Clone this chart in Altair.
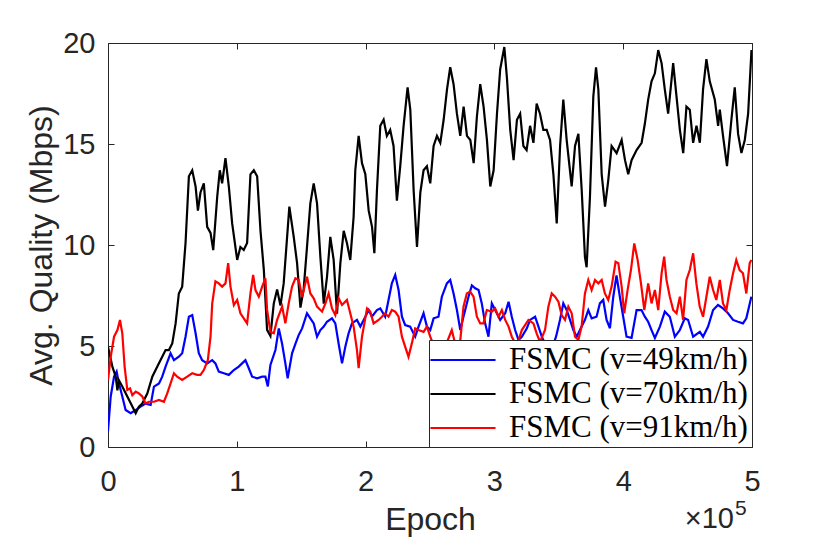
import altair as alt
import pandas as pd

# x values are in units of 1e5 epochs
blue_x = [0, 0.021, 0.047, 0.067, 0.085, 0.111, 0.137, 0.176, 0.215, 0.253, 0.292, 0.331, 0.357, 0.396, 0.421, 0.447, 0.486, 0.512, 0.55, 0.576, 0.602, 0.628, 0.654, 0.68, 0.705, 0.731, 0.77, 0.809, 0.834, 0.86, 0.899, 0.938, 0.977, 1.015, 1.041, 1.067, 1.093, 1.119, 1.158, 1.197, 1.222, 1.241, 1.261, 1.3, 1.326, 1.352, 1.377, 1.395, 1.429, 1.455, 1.481, 1.507, 1.545, 1.571, 1.597, 1.623, 1.649, 1.675, 1.7, 1.739, 1.765, 1.791, 1.817, 1.843, 1.868, 1.894, 1.933, 1.959, 1.998, 2.024, 2.049, 2.088, 2.114, 2.152, 2.178, 2.204, 2.23, 2.256, 2.282, 2.307, 2.346, 2.385, 2.411, 2.45, 2.476, 2.502, 2.528, 2.566, 2.592, 2.631, 2.657, 2.683, 2.709, 2.735, 2.76, 2.799, 2.825, 2.851, 2.877, 2.902, 2.928, 2.954, 2.98, 3.006, 3.045, 3.084, 3.11, 3.135, 3.161, 3.187, 3.213, 3.252, 3.277, 3.316, 3.342, 3.368, 3.394, 3.45, 3.48, 3.509, 3.535, 3.561, 3.587, 3.613, 3.639, 3.664, 3.703, 3.729, 3.755, 3.793, 3.819, 3.845, 3.871, 3.897, 3.923, 3.948, 3.974, 4.0, 4.026, 4.065, 4.104, 4.142, 4.168, 4.194, 4.22, 4.246, 4.285, 4.323, 4.362, 4.401, 4.44, 4.478, 4.504, 4.543, 4.595, 4.62, 4.659, 4.698, 4.736, 4.775, 4.814, 4.853, 4.891, 4.93, 4.956, 4.995]
blue_y = [0.8, 2.5, 3.48, 3.73, 3.15, 2.5, 1.83, 1.67, 1.83, 2.0, 2.15, 2.08, 2.99, 3.15, 3.48, 3.98, 4.64, 4.3, 4.47, 4.64, 5.46, 6.45, 6.53, 5.63, 4.64, 4.3, 4.14, 4.3, 4.14, 3.73, 3.65, 3.57, 3.81, 3.98, 4.14, 4.3, 3.9, 3.48, 3.4, 3.48, 3.48, 3.0, 4.06, 4.8, 5.87, 5.1, 4.14, 3.4, 4.64, 5.1, 5.55, 5.87, 6.62, 6.37, 6.12, 5.46, 5.79, 5.96, 6.2, 6.37, 6.12, 5.1, 4.14, 4.97, 5.63, 6.12, 6.29, 5.96, 6.45, 6.78, 6.45, 6.78, 6.86, 6.45, 7.28, 8.1, 8.52, 7.77, 6.45, 6.04, 5.96, 5.46, 5.96, 6.62, 5.96, 5.79, 6.37, 6.45, 7.44, 8.1, 8.27, 7.6, 6.78, 5.79, 6.45, 7.44, 8.0, 7.86, 7.77, 7.11, 6.12, 5.46, 7.11, 6.78, 6.29, 6.62, 7.19, 6.45, 5.79, 5.3, 5.46, 5.88, 6.29, 6.45, 5.96, 5.46, 5.1, 4.9, 5.5, 6.29, 7.11, 6.78, 6.29, 5.79, 5.46, 5.79, 6.3, 6.78, 6.37, 6.45, 7.11, 7.28, 6.29, 5.88, 7.44, 8.5, 7.44, 6.45, 5.46, 5.4, 6.78, 6.78, 6.45, 6.2, 5.79, 5.4, 5.96, 6.7, 6.45, 5.46, 5.79, 6.37, 6.29, 5.46, 5.7, 5.46, 5.96, 6.78, 7.03, 6.86, 6.62, 6.29, 6.2, 6.12, 6.37, 7.44]

black_x = [0, 0.034, 0.06, 0.073, 0.085, 0.111, 0.15, 0.189, 0.215, 0.24, 0.266, 0.305, 0.344, 0.383, 0.421, 0.447, 0.473, 0.499, 0.525, 0.55, 0.576, 0.602, 0.628, 0.654, 0.68, 0.698, 0.718, 0.744, 0.77, 0.796, 0.817, 0.848, 0.868, 0.886, 0.912, 0.938, 0.964, 1.003, 1.028, 1.054, 1.08, 1.106, 1.132, 1.158, 1.184, 1.21, 1.235, 1.261, 1.287, 1.313, 1.339, 1.364, 1.408, 1.442, 1.468, 1.494, 1.519, 1.545, 1.571, 1.597, 1.623, 1.649, 1.675, 1.7, 1.726, 1.752, 1.778, 1.804, 1.83, 1.855, 1.881, 1.907, 1.92, 1.946, 1.972, 1.998, 2.024, 2.05, 2.068, 2.088, 2.114, 2.14, 2.165, 2.191, 2.217, 2.243, 2.269, 2.295, 2.326, 2.347, 2.373, 2.399, 2.425, 2.45, 2.476, 2.502, 2.528, 2.554, 2.58, 2.606, 2.632, 2.657, 2.683, 2.709, 2.735, 2.761, 2.787, 2.813, 2.839, 2.864, 2.89, 2.916, 2.942, 2.968, 2.994, 3.02, 3.045, 3.077, 3.097, 3.123, 3.149, 3.175, 3.2, 3.225, 3.25, 3.277, 3.303, 3.328, 3.354, 3.38, 3.406, 3.432, 3.458, 3.484, 3.51, 3.535, 3.561, 3.6, 3.626, 3.652, 3.678, 3.703, 3.716, 3.742, 3.768, 3.789, 3.807, 3.833, 3.859, 3.884, 3.91, 3.949, 3.988, 4.014, 4.039, 4.065, 4.104, 4.143, 4.168, 4.194, 4.22, 4.246, 4.272, 4.298, 4.323, 4.349, 4.388, 4.414, 4.44, 4.466, 4.491, 4.517, 4.543, 4.569, 4.595, 4.62, 4.646, 4.672, 4.711, 4.737, 4.75, 4.775, 4.806, 4.84, 4.866, 4.892, 4.918, 4.944, 4.97, 4.996]
black_y = [4.95, 3.98, 3.48, 2.8, 3.3, 3.0, 2.5, 2.0, 1.67, 2.0, 2.15, 2.65, 3.48, 3.98, 4.47, 4.8, 4.8, 5.13, 6.12, 7.6, 7.94, 10.1, 13.4, 13.7, 12.9, 11.7, 12.6, 13.05, 10.9, 10.6, 9.75, 12.4, 13.7, 13.05, 14.3, 12.9, 11.07, 9.26, 9.9, 9.75, 10.1, 13.5, 13.7, 13.4, 10.7, 8.76, 5.8, 5.5, 7.1, 7.8, 7.0, 8.1, 11.9, 10.4, 9.1, 6.9, 7.8, 9.9, 12.06, 13.05, 12.06, 9.4, 7.1, 8.4, 10.4, 9.26, 6.6, 9.1, 10.7, 10.1, 9.26, 11.4, 13.7, 15.4, 14.05, 13.5, 11.7, 10.9, 9.6, 12.7, 15.9, 16.2, 15.4, 15.7, 14.9, 12.2, 13.9, 15.9, 17.8, 16.7, 12.7, 9.9, 12.6, 13.7, 13.9, 13.05, 14.9, 15.4, 15.06, 16.2, 17.7, 18.8, 17.96, 16.5, 15.4, 16.85, 15.4, 15.2, 14.05, 16.35, 17.96, 16.85, 15.2, 12.9, 13.7, 16.5, 18.7, 19.8, 18.3, 15.7, 14.2, 16.2, 16.5, 14.9, 14.7, 15.9, 15.06, 17.0, 16.5, 15.7, 15.7, 15.2, 13.5, 11.07, 14.9, 17.2, 15.2, 12.9, 14.9, 15.5, 12.7, 9.4, 8.9, 12.4, 17.35, 18.8, 17.7, 13.5, 11.9, 13.2, 14.9, 14.55, 15.2, 14.2, 13.5, 14.2, 14.7, 15.06, 16.0, 17.2, 18.1, 18.5, 19.65, 19.0, 17.7, 16.5, 19.0, 17.35, 15.7, 14.55, 16.85, 16.7, 15.06, 15.9, 15.06, 17.7, 19.2, 18.1, 17.2, 15.9, 16.7, 15.4, 13.9, 16.2, 17.8, 15.5, 14.55, 15.2, 16.5, 19.65]

red_x = [0, 0.021, 0.047, 0.073, 0.093, 0.111, 0.129, 0.15, 0.171, 0.189, 0.215, 0.24, 0.266, 0.292, 0.318, 0.357, 0.396, 0.434, 0.46, 0.486, 0.512, 0.537, 0.576, 0.615, 0.654, 0.692, 0.718, 0.744, 0.775, 0.796, 0.809, 0.834, 0.86, 0.886, 0.912, 0.933, 0.951, 0.977, 1.003, 1.028, 1.054, 1.08, 1.106, 1.127, 1.145, 1.171, 1.197, 1.222, 1.235, 1.261, 1.287, 1.313, 1.352, 1.377, 1.403, 1.429, 1.455, 1.481, 1.507, 1.545, 1.571, 1.597, 1.623, 1.662, 1.688, 1.713, 1.739, 1.765, 1.791, 1.817, 1.855, 1.881, 1.907, 1.933, 1.946, 1.972, 2.011, 2.036, 2.062, 2.101, 2.127, 2.152, 2.178, 2.204, 2.23, 2.256, 2.282, 2.307, 2.333, 2.359, 2.385, 2.411, 2.45, 2.476, 2.502, 2.53, 2.58, 2.62, 2.669, 2.7, 2.734, 2.76, 2.786, 2.812, 2.838, 2.864, 2.89, 2.915, 2.941, 2.98, 3.006, 3.032, 3.058, 3.084, 3.11, 3.135, 3.174, 3.213, 3.264, 3.303, 3.328, 3.354, 3.393, 3.419, 3.445, 3.471, 3.497, 3.522, 3.548, 3.574, 3.6, 3.626, 3.652, 3.677, 3.703, 3.729, 3.755, 3.781, 3.807, 3.833, 3.858, 3.884, 3.91, 3.941, 3.962, 3.988, 4.008, 4.034, 4.06, 4.086, 4.112, 4.138, 4.164, 4.194, 4.22, 4.246, 4.272, 4.298, 4.318, 4.336, 4.362, 4.388, 4.414, 4.44, 4.465, 4.491, 4.517, 4.543, 4.568, 4.594, 4.62, 4.646, 4.672, 4.698, 4.723, 4.75, 4.775, 4.801, 4.827, 4.853, 4.878, 4.904, 4.93, 4.956, 4.982, 4.995]
red_y = [3.3, 4.47, 5.46, 5.79, 6.29, 5.63, 3.98, 2.82, 2.9, 2.57, 2.74, 2.65, 2.5, 2.15, 2.24, 2.24, 2.33, 2.24, 2.65, 3.15, 3.65, 3.48, 3.32, 3.48, 3.65, 3.57, 3.57, 3.81, 4.3, 5.46, 7.1, 8.2, 8.1, 7.94, 8.1, 9.1, 7.94, 7.03, 7.28, 6.62, 6.37, 6.12, 7.6, 8.52, 7.77, 7.44, 7.94, 8.35, 6.8, 5.7, 5.63, 6.29, 6.95, 6.12, 7.11, 7.94, 8.35, 8.27, 7.44, 8.43, 7.6, 7.36, 6.95, 6.7, 7.11, 7.6, 6.86, 6.53, 7.36, 7.03, 7.28, 6.62, 5.96, 4.8, 3.9, 5.46, 6.86, 6.7, 6.12, 6.29, 6.45, 6.62, 6.45, 6.78, 6.7, 6.45, 5.46, 4.97, 4.47, 5.13, 5.87, 5.79, 5.7, 5.96, 5.46, 5.0, 4.8, 5.0, 5.79, 5.0, 5.2, 6.95, 7.6, 7.69, 7.44, 6.45, 6.12, 6.12, 6.78, 6.7, 6.86, 6.45, 6.78, 6.29, 5.96, 5.46, 5.0, 5.79, 6.29, 6.12, 5.63, 5.2, 5.79, 6.95, 7.6, 7.44, 7.19, 6.53, 6.29, 6.95, 6.62, 5.46, 5.3, 5.96, 7.6, 8.27, 7.77, 8.27, 8.1, 8.27, 7.6, 7.28, 7.94, 9.17, 9.1, 7.94, 6.62, 7.77, 8.76, 10.08, 9.26, 8.1, 6.78, 8.1, 7.11, 7.77, 6.78, 8.6, 9.42, 8.27, 7.44, 6.78, 6.62, 7.44, 6.29, 8.27, 8.76, 9.59, 8.1, 6.95, 6.45, 7.44, 8.43, 7.77, 7.28, 8.27, 7.11, 6.78, 7.77, 8.6, 9.26, 8.76, 8.6, 7.6, 9.1, 9.26]

labels = ["FSMC (v=49km/h)", "FSMC (v=70km/h)", "FSMC (v=91km/h)"]
colors = ["#0000FF", "#000000", "#FF0000"]
x_ticks = [0, 1, 2, 3, 4, 5]
y_ticks = [0, 5, 10, 15, 20]

rows = []
for lab, xs, ys in zip(labels, [blue_x, black_x, red_x], [blue_y, black_y, red_y]):
    for i, (xv, yv) in enumerate(zip(xs, ys)):
        rows.append({"epoch": xv, "quality": yv, "series": lab, "idx": i})
df = pd.DataFrame(rows)

W, H = 644, 404
INK = "#262626"
SANS = "Liberation Sans"

xscale = alt.Scale(domain=[0, 5], nice=False, zero=False)
yscale = alt.Scale(domain=[0, 20], nice=False, zero=False)

common = dict(domain=False, grid=False, tickSize=6, tickColor=INK, tickWidth=1,
              offset=-6, labelFont=SANS, labelFontSize=29, labelColor=INK,
              labelFlush=False, labelOverlap=False,
              titleFont=SANS, titleFontSize=32, titleColor=INK, titleFontWeight="normal")

lines = alt.Chart(df).mark_line(strokeWidth=2.2, clip=True).encode(
    x=alt.X("epoch:Q", scale=xscale,
            axis=alt.Axis(orient="bottom", values=x_ticks, format="d", title="Epoch",
                          labelPadding=20, titleX=W / 2, titleY=88,
                          titleBaseline="alphabetic", titleAlign="center", **common)),
    y=alt.Y("quality:Q", scale=yscale,
            axis=alt.Axis(orient="left", values=y_ticks, format="d", title="Avg. Quality (Mbps)",
                          labelPadding=13, titleX=-63, titleY=H / 2, titleAngle=270,
                          titleBaseline="alphabetic", titleAlign="center", **common)),
    color=alt.Color("series:N", scale=alt.Scale(domain=labels, range=colors),
                    legend=alt.Legend(orient="bottom-right", offset=0, title=None,
                                      fillColor="white", strokeColor=INK, padding=4,
                                      symbolType="M-2.17,0H2.17", symbolSize=900,
                                      symbolStrokeWidth=2, symbolOffset=14,
                                      labelFont="Liberation Serif", labelFontSize=31,
                                      labelColor="black", labelLimit=600, labelOffset=30,
                                      rowPadding=3)),
    order="idx:Q",
)

frame = alt.Chart(df).mark_line(opacity=0).encode(
    x=alt.X("epoch:Q", scale=xscale,
            axis=alt.Axis(orient="top", values=x_ticks, labels=False, title=None, **common)),
    y=alt.Y("quality:Q", scale=yscale,
            axis=alt.Axis(orient="right", values=y_ticks, labels=False, title=None, **common)),
    detail="series:N",
)

exp_base = alt.Chart(pd.DataFrame({"t": ["×10"]})).mark_text(
    font=SANS, fontSize=29, color=INK, align="right", baseline="alphabetic"
).encode(x=alt.value(626), y=alt.value(485), text="t:N")

exp_sup = alt.Chart(pd.DataFrame({"t": ["5"]})).mark_text(
    font=SANS, fontSize=21, color=INK, align="left", baseline="alphabetic"
).encode(x=alt.value(627), y=alt.value(472), text="t:N")

chart = alt.layer(frame, lines, exp_base, exp_sup).resolve_axis(
    x="independent", y="independent"
).properties(
    width=W, height=H,
    autosize=alt.AutoSizeParams(type="none"),
    padding={"left": 100, "top": 35, "right": 40, "bottom": 94},
    background="white",
).configure_view(stroke=INK, strokeWidth=1)

chart.save("out.html", embed_options={"renderer": "svg", "actions": False})
